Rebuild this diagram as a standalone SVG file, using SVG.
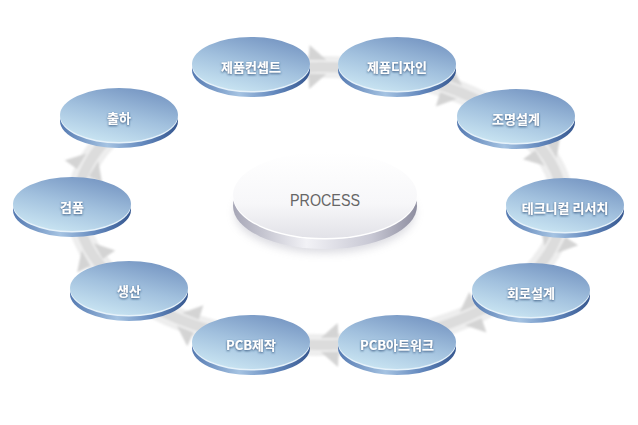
<svg xmlns="http://www.w3.org/2000/svg" width="638" height="425" viewBox="0 0 638 425">
<defs>
<linearGradient id="gTop" x1="0.25" y1="1" x2="0.75" y2="0">
<stop offset="0" stop-color="#cbe6f3"/><stop offset="0.5" stop-color="#a2c1de"/><stop offset="1" stop-color="#7595c2"/>
</linearGradient>
<linearGradient id="gRim" x1="0" y1="0" x2="1" y2="0">
<stop offset="0" stop-color="#5479b1"/><stop offset="0.4" stop-color="#a5c3e2"/><stop offset="0.7" stop-color="#6489be"/><stop offset="1" stop-color="#36578f"/>
</linearGradient>
<linearGradient id="pTop" x1="0" y1="0" x2="0" y2="1">
<stop offset="0" stop-color="#ffffff"/><stop offset="0.6" stop-color="#f7f7f9"/><stop offset="1" stop-color="#e2e2e8"/>
</linearGradient>
<linearGradient id="pRim" x1="0" y1="0" x2="1" y2="0">
<stop offset="0" stop-color="#a6a6b6"/><stop offset="0.4" stop-color="#f2f2f6"/><stop offset="0.75" stop-color="#c8c8d4"/><stop offset="1" stop-color="#8e8ea0"/>
</linearGradient>
<filter id="txtSh" x="-20%" y="-40%" width="140%" height="180%">
<feDropShadow dx="0" dy="1" stdDeviation="1" flood-color="#24466f" flood-opacity="0.9"/>
</filter>
<filter id="soft" x="-10%" y="-10%" width="120%" height="120%">
<feGaussianBlur stdDeviation="1.3"/>
</filter>
<filter id="shadow" x="-20%" y="-40%" width="140%" height="180%">
<feGaussianBlur stdDeviation="4"/>
</filter>
<path id="barbs" d="M-15,-7 L-14,-22 L3,-7 Z M-15,7 L-14,22 L3,7 Z"/>
</defs>
<style>
.rim{fill:url(#gRim)}
.hl{fill:#e6f2fa}
.top{fill:url(#gTop)}
.lbl{font-family:"Noto Sans CJK KR","Noto Sans",sans-serif;font-size:13px;font-weight:bold;fill:#ffffff;text-anchor:middle;filter:url(#txtSh)}
.ring1{fill:none;stroke:#eeeeee;stroke-width:22}
.ring2{fill:none;stroke:#dcdcdc;stroke-width:10}
.barb{fill:#d4d4d4}
</style>
<rect width="638" height="425" fill="#ffffff"/>
<g id="connectors" filter="url(#soft)">
<path class="ring1" d="M 277.8 69.1 A 243 139 0 1 1 121 126.3"/>
<path class="ring2" d="M 277.8 69.1 A 243 139 0 1 1 121 126.3"/>
<use href="#barbs" class="barb" transform="translate(323.4,67) rotate(0.5)"/>
<use href="#barbs" class="barb" transform="translate(456.8,91.2) rotate(21.3)"/>
<use href="#barbs" class="barb" transform="translate(549,159.5) rotate(58.2)"/>
<use href="#barbs" class="barb" transform="translate(552.2,247) rotate(118.4)"/>
<use href="#barbs" class="barb" transform="translate(465,317.6) rotate(157)"/>
<use href="#barbs" class="barb" transform="translate(323.8,345) rotate(179.5)"/>
<use href="#barbs" class="barb" transform="translate(182.3,320.6) rotate(201.5)"/>
<use href="#barbs" class="barb" transform="translate(89.2,249.4) rotate(240.1)"/>
<use href="#barbs" class="barb" transform="translate(90.8,159.8) rotate(301.6)"/>
</g>
<g id="process" transform="translate(325,195)">
<ellipse cx="0" cy="18" rx="90" ry="40" fill="#9a9aaa" opacity="0.35" filter="url(#shadow)"/>
<ellipse cx="0" cy="11" rx="92" ry="43" fill="url(#pRim)"/>
<ellipse cx="0" cy="1.5" rx="92" ry="43" fill="#ffffff"/>
<ellipse cx="0" cy="0" rx="92" ry="43" fill="url(#pTop)"/>
<text x="0" y="11" font-family="'Liberation Sans',Arial,sans-serif" font-size="16" fill="#666666" text-anchor="middle" textLength="70" lengthAdjust="spacingAndGlyphs">PROCESS</text>
</g>
<g id="n1" transform="translate(251,64)"><ellipse class="rim" cy="6" rx="59" ry="27"/><ellipse class="hl" cy="1.5" rx="59" ry="27"/><ellipse class="top" rx="59" ry="27"/><text class="lbl" y="8">제품컨셉트</text></g>
<g id="n2" transform="translate(397,64)"><ellipse class="rim" cy="6" rx="59" ry="27"/><ellipse class="hl" cy="1.5" rx="59" ry="27"/><ellipse class="top" rx="59" ry="27"/><text class="lbl" y="8">제품디자인</text></g>
<g id="n3" transform="translate(516,116)"><ellipse class="rim" cy="6" rx="59" ry="27"/><ellipse class="hl" cy="1.5" rx="59" ry="27"/><ellipse class="top" rx="59" ry="27"/><text class="lbl" y="8">조명설계</text></g>
<g id="n4" transform="translate(565,205)"><ellipse class="rim" cy="6" rx="59" ry="27"/><ellipse class="hl" cy="1.5" rx="59" ry="27"/><ellipse class="top" rx="59" ry="27"/><text class="lbl" y="8">테크니컬 리서치</text></g>
<g id="n5" transform="translate(531,290)"><ellipse class="rim" cy="6" rx="59" ry="27"/><ellipse class="hl" cy="1.5" rx="59" ry="27"/><ellipse class="top" rx="59" ry="27"/><text class="lbl" y="8">회로설계</text></g>
<g id="n6" transform="translate(397,342)"><ellipse class="rim" cy="6" rx="59" ry="27"/><ellipse class="hl" cy="1.5" rx="59" ry="27"/><ellipse class="top" rx="59" ry="27"/><text class="lbl" y="8">PCB아트워크</text></g>
<g id="n7" transform="translate(251,342)"><ellipse class="rim" cy="6" rx="59" ry="27"/><ellipse class="hl" cy="1.5" rx="59" ry="27"/><ellipse class="top" rx="59" ry="27"/><text class="lbl" y="8">PCB제작</text></g>
<g id="n8" transform="translate(129,288)"><ellipse class="rim" cy="6" rx="59" ry="27"/><ellipse class="hl" cy="1.5" rx="59" ry="27"/><ellipse class="top" rx="59" ry="27"/><text class="lbl" y="8">생산</text></g>
<g id="n9" transform="translate(72,204)"><ellipse class="rim" cy="6" rx="59" ry="27"/><ellipse class="hl" cy="1.5" rx="59" ry="27"/><ellipse class="top" rx="59" ry="27"/><text class="lbl" y="8">검품</text></g>
<g id="n10" transform="translate(119,115)"><ellipse class="rim" cy="6" rx="59" ry="27"/><ellipse class="hl" cy="1.5" rx="59" ry="27"/><ellipse class="top" rx="59" ry="27"/><text class="lbl" y="8">출하</text></g>
</svg>
